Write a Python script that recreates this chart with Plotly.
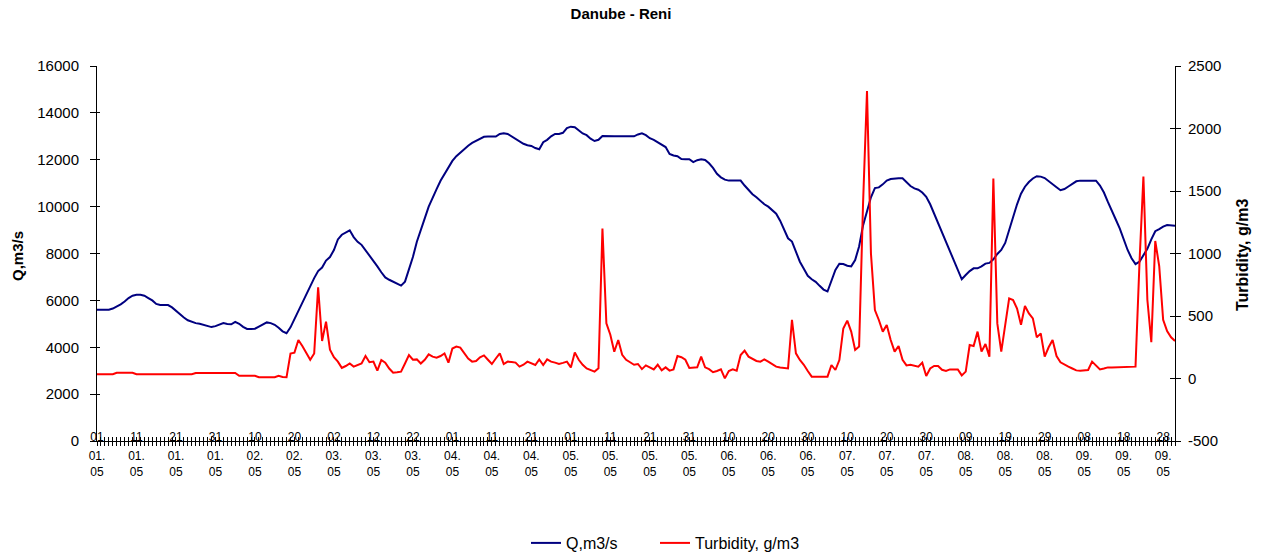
import pandas as pd
import plotly.graph_objects as go

# ---- categories: daily dates 01.01.05 .. 01.10.05 ----
dates = pd.date_range("2005-01-01", "2005-10-01", freq="D")
date_str = [d.strftime("%Y-%m-%d") for d in dates]

# ---- series values ----
discharge_q = [
    5600, 5600, 5600, 5600, 5650, 5730, 5830, 5950, 6100, 6200,
    6240, 6240, 6200, 6100, 6000, 5850, 5800, 5800, 5800, 5700,
    5550, 5400, 5270, 5150, 5080, 5030, 5000, 4960, 4900, 4860,
    4900, 4970, 5030, 4990, 4980, 5080, 5000, 4870, 4780, 4780,
    4790, 4880, 4980, 5060, 5030, 4960, 4830, 4680, 4600, 4850,
    5200, 5550, 5950, 6300, 6600, 6950, 7250, 7400, 7700, 7850,
    8150, 8600, 8800, 8880, 8990, 8700, 8500, 8370, 8150, 7900,
    7720, 7450, 7200, 6980, 6880, 6790, 6700, 6630, 6800, 7300,
    7850, 8500, 9050, 9500, 10000, 10400, 10750, 11100, 11400, 11700,
    11950, 12150, 12300, 12480, 12600, 12720, 12800, 12900, 12980, 12990,
    12990, 12990, 13100, 13128, 13100, 13000, 12900, 12780, 12680, 12620,
    12590, 12500, 12450, 12750, 12850, 13000, 13100, 13100, 13150, 13350,
    13412, 13390, 13250, 13120, 13050, 12900, 12800, 12850, 13014, 13000,
    13000, 13000, 13000, 13000, 13000, 13000, 13000, 13080, 13128, 13050,
    12920, 12850, 12750, 12640, 12540, 12250, 12180, 12150, 12030, 12020,
    12020, 11900, 11980, 12020, 11990, 11850, 11650, 11400, 11250, 11150,
    11110, 11110, 11110, 11110, 10900, 10700, 10530, 10400, 10250, 10100,
    10000, 9860, 9700, 9400, 9000, 8650, 8510, 8100, 7650, 7350,
    7050, 6900, 6790, 6620, 6460, 6380, 6830, 7300, 7560, 7553,
    7480, 7450, 7724, 8300, 9200, 9857, 10400, 10790, 10820, 10950,
    11109, 11180, 11208, 11208, 11208, 11050, 10880, 10780, 10720, 10600,
    10420, 10100, 9700, 9300, 8900, 8450, 8050, 7650, 7250, 6900,
    7080, 7250, 7368, 7368, 7450, 7570, 7600, 7750, 7980, 8150,
    8450, 9000, 9571, 10100, 10550, 10850, 11050, 11200, 11300, 11280,
    11220, 11100, 10980, 10830, 10700, 10750, 10860, 10980, 11080, 11109,
    11109, 11109, 11109, 11109, 10900, 10600, 10200, 9850, 9450, 9074,
    8600, 8150, 7800, 7550, 7650, 7950, 8200, 8600, 8950, 9040,
    9150, 9216, 9200, 9188,
]

turbidity = [
    34, 34, 34, 34, 34, 46, 46, 46, 46, 46,
    34, 34, 34, 34, 34, 34, 34, 34, 34, 34,
    34, 34, 34, 34, 34, 44, 44, 44, 44, 44,
    44, 44, 44, 44, 44, 44, 22, 22, 22, 22,
    22, 10, 10, 10, 10, 10, 22, 12, 10, 200,
    207, 308, 260, 200, 150, 200, 730, 300, 455, 230,
    170, 135, 85, 100, 120, 95, 105, 121, 180, 130,
    135, 63, 148, 127, 80, 47, 50, 55, 120, 188,
    150, 153, 120, 150, 193, 175, 167, 180, 201, 127,
    240, 255, 247, 200, 160, 135, 140, 170, 185, 150,
    116, 160, 201, 116, 135, 132, 127, 95, 110, 135,
    120, 108, 153, 108, 153, 135, 127, 116, 125, 135,
    89, 209, 150, 110, 81, 70, 55, 81, 1200, 441,
    350, 214, 308, 190, 150, 130, 110, 116, 75, 105,
    90, 73, 110, 65, 89, 63, 73, 180, 170, 150,
    85, 85, 90, 175, 89, 75, 50, 60, 73, 1,
    60, 73, 63, 188, 223, 175, 155, 140, 135, 153,
    135, 116, 95, 88, 82, 81, 470, 201, 148, 110,
    60, 15, 15, 15, 15, 15, 108, 68, 148, 400,
    463, 375, 228, 255, 1400, 2300, 1000, 548, 468, 375,
    428, 308, 215, 260, 150, 105, 110, 100, 95, 127,
    20, 80, 100, 100, 70, 60, 73, 73, 73, 25,
    55, 268, 260, 375, 215, 276, 175, 1600, 441, 215,
    415, 641, 628, 560, 430, 580, 520, 481, 329, 361,
    175, 250, 308, 180, 130, 110, 95, 80, 65, 63,
    65, 68, 135, 100, 73, 80, 89, 89, 89, 89,
    89, 89, 89, 95, 920, 1615, 630, 290, 1100, 900,
    470, 380, 330, 300,
]

# ---- tick labels (every 10th day) ----
tick_days = dates[::10][:28]
tick_dates = [d.strftime("%Y-%m-%d") for d in tick_days]
tick_day_text = [d.strftime("%d") for d in tick_days]
tick_rest_text = [d.strftime("%m.<br>%y") for d in tick_days]

q_ticks = list(range(0, 16001, 2000))
q_tick_text = [str(v) for v in q_ticks]
t_ticks = list(range(-500, 2501, 500))
t_tick_text = [str(v) for v in t_ticks]

FONT = "Liberation Sans, Arial, sans-serif"
DAY_MS = 86400000

fig = go.Figure()
fig.add_trace(go.Scatter(x=date_str, y=discharge_q, name="Q,m3/s", mode="lines",
                         line=dict(color="#000080", width=2), xaxis="x", yaxis="y",
                         legend="legend"))
fig.add_trace(go.Scatter(x=date_str, y=turbidity, name="Turbidity, g/m3", mode="lines",
                         line=dict(color="#FF0000", width=2), xaxis="x", yaxis="y2",
                         legend="legend2"))
# helper traces so the overlay axes (cross tick marks, day labels) are drawn
fig.add_trace(go.Scatter(x=[None], y=[None], xaxis="x2", yaxis="y3", showlegend=False,
                         hoverinfo="skip"))
fig.add_trace(go.Scatter(x=[None], y=[None], xaxis="x2", yaxis="y4", showlegend=False,
                         hoverinfo="skip"))

xrange = [date_str[0], date_str[-1]]
legend_common = dict(orientation="h", xref="container", yref="container",
                     xanchor="left", y=1 - 543 / 555, yanchor="middle",
                     font=dict(size=16), itemwidth=30, bgcolor="rgba(0,0,0,0)")
fig.update_layout(
    width=1264, height=555,
    margin=dict(l=97, r=89, t=66, b=114),
    paper_bgcolor="white", plot_bgcolor="white",
    font=dict(family=FONT, size=15, color="black"),
    title=dict(text="<b>Danube - Reni</b>", x=621 / 1264, xref="container", xanchor="center",
               y=1 - 14 / 555, yref="container", yanchor="middle",
               font=dict(size=15, family=FONT)),
    showlegend=True,
    legend=dict(x=526 / 1264, **legend_common),
    legend2=dict(x=655 / 1264, **legend_common),
    xaxis=dict(type="date", range=xrange, tickmode="array", tickvals=tick_dates,
               ticktext=tick_rest_text, ticks="outside", ticklen=4, tickcolor="black",
               tickwidth=1, showline=True, linecolor="black", linewidth=1,
               showgrid=False, zeroline=False, tickfont=dict(size=12),
               ticklabelstandoff=0,
               minor=dict(dtick=DAY_MS, tick0=date_str[0], ticks="outside", ticklen=4,
                          tickcolor="black", tickwidth=1, showgrid=False)),
    xaxis2=dict(type="date", range=xrange, overlaying="x", anchor="y", side="bottom",
                tickmode="array", tickvals=tick_dates, ticktext=tick_day_text,
                ticks="inside", ticklen=4, tickcolor="black",
                tickwidth=1, showline=False, showgrid=False, zeroline=False,
                tickfont=dict(size=12), ticklabelstandoff=-13,
                minor=dict(dtick=DAY_MS, tick0=date_str[0], ticks="inside", ticklen=4,
                           tickcolor="black", tickwidth=1, showgrid=False)),
    yaxis=dict(range=[0, 16000], tickmode="array", tickvals=q_ticks, ticktext=q_tick_text,
               ticks="outside", ticklen=6, tickcolor="black", showline=True,
               linecolor="black", linewidth=1, showgrid=False, zeroline=False,
               ticklabelstandoff=8),
    yaxis2=dict(range=[-500, 2500], tickmode="array", tickvals=t_ticks, ticktext=t_tick_text,
                overlaying="y", side="right", anchor="x", ticks="outside", ticklen=5,
                tickcolor="black", showline=True, linecolor="black", linewidth=1,
                showgrid=False, zeroline=False, ticklabelstandoff=4),
    yaxis3=dict(range=[0, 16000], tickmode="array", tickvals=q_ticks, overlaying="y",
                side="left", anchor="x", ticks="inside", ticklen=3, tickcolor="black",
                showticklabels=False, showline=False, showgrid=False, zeroline=False),
    yaxis4=dict(range=[-500, 2500], tickmode="array", tickvals=t_ticks, overlaying="y",
                side="right", anchor="x", ticks="inside", ticklen=5, tickcolor="black",
                showticklabels=False, showline=False, showgrid=False, zeroline=False),
    annotations=[
        dict(text="<b>Q,m3/s</b>", xref="paper", yref="paper",
             x=(18 - 97) / 1078, y=(441 - 256) / 375, showarrow=False, textangle=-90,
             xanchor="center", yanchor="middle", font=dict(size=15)),
        dict(text="<b>Turbidity, g/m3</b>", xref="paper", yref="paper",
             x=(1242 - 97) / 1078, y=(441 - 255) / 375, showarrow=False, textangle=-90,
             xanchor="center", yanchor="middle", font=dict(size=16)),
    ],
)

fig.write_html("out.html")
